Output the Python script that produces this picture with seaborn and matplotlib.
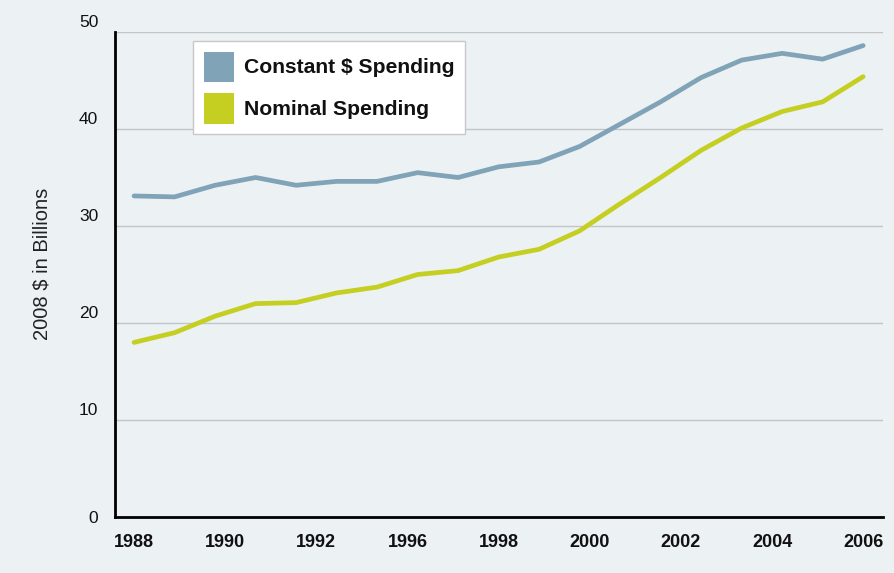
import numpy as np
import pandas as pd
import matplotlib
matplotlib.use("Agg")
import matplotlib.pyplot as plt
import matplotlib.patches as mpatches
from matplotlib.transforms import ScaledTranslation
import seaborn as sns

# ------------------------------
# Data
# ------------------------------
years = list(range(1988, 2007))
constant_spending = [33.1, 33.0, 34.2, 35.0, 34.2, 34.6, 34.6, 35.5, 35.0, 36.1,
                     36.6, 38.2, 40.5, 42.8, 45.3, 47.1, 47.8, 47.2, 48.6]
nominal_spending = [18.0, 19.0, 20.7, 22.0, 22.1, 23.1, 23.7, 25.0, 25.4, 26.8,
                    27.6, 29.5, 32.3, 35.0, 37.8, 40.1, 41.8, 42.8, 45.4]
series_names = ["Constant $ Spending", "Nominal Spending"]
x_tick_labels = ["1988", "1990", "1992", "1996", "1998", "2000", "2002", "2004", "2006"]
y_ticks = [0, 10, 20, 30, 40, 50]

df = pd.DataFrame({
    "year": years * 2,
    "value": constant_spending + nominal_spending,
    "series": [series_names[0]] * len(years) + [series_names[1]] * len(years),
})

colors = {series_names[0]: "#80a3b8", series_names[1]: "#c4cf22"}
bg = "#ecf1f4"

sns.set_style("white")
plt.rcParams["font.family"] = ["Liberation Sans", "DejaVu Sans"]

fig = plt.figure(figsize=(8.95, 5.73), dpi=100, facecolor=bg)
ax = fig.add_axes([115 / 895, 56 / 573, 768 / 895, 485 / 573])
ax.set_facecolor(bg)

sns.lineplot(data=df, x="year", y="value", hue="series", palette=colors,
             linewidth=3.4, ax=ax, legend=False, solid_capstyle="round")

ax.set_xlim(1987.53, 2006.49)
ax.set_ylim(0, 50)

# grid lines
ax.set_yticks(y_ticks)
ax.yaxis.grid(True, color="#c2c4c6", linewidth=1.0)
ax.set_axisbelow(True)

# spines
for s in ["top", "right"]:
    ax.spines[s].set_visible(False)
for s in ["left", "bottom"]:
    ax.spines[s].set_color("black")
    ax.spines[s].set_linewidth(2.0)

# x labels spread evenly along the axis
ax.set_xticks(np.linspace(1988, 2006, len(x_tick_labels)))
ax.set_xticklabels(x_tick_labels, fontsize=13, fontweight="bold", color="#111111")
ax.tick_params(axis="x", length=0, pad=12)

# y labels sit a little above their grid line (except the zero)
ax.set_yticklabels([str(v) for v in y_ticks], fontsize=12.5, color="#111111")
ax.tick_params(axis="y", length=0, pad=12)
for i, lab in enumerate(ax.get_yticklabels()):
    if i > 0:
        lab.set_transform(lab.get_transform() + ScaledTranslation(0, 11 / 100, fig.dpi_scale_trans))

ax.set_xlabel("")
ax.set_ylabel("2008 $ in Billions", fontsize=14.5, color="#222222")
ax.yaxis.set_label_coords(-0.083, 0.522)

# legend with square color swatches
handles = [mpatches.Patch(facecolor=colors[n], edgecolor="none", label=n) for n in series_names]
leg = ax.legend(handles=handles, loc="upper left", bbox_to_anchor=(78 / 768, 476 / 485),
                frameon=True, fancybox=False, framealpha=1, borderaxespad=0,
                prop={"weight": "bold", "size": 15.2}, handlelength=1.43, handleheight=1.83,
                handletextpad=0.5, labelspacing=0.55, borderpad=0.5)
leg.get_frame().set_edgecolor("#c8c8c8")
leg.get_frame().set_linewidth(1.0)
for t in leg.get_texts():
    t.set_color("#111111")

fig.savefig("out.png", dpi=100, facecolor=bg)
